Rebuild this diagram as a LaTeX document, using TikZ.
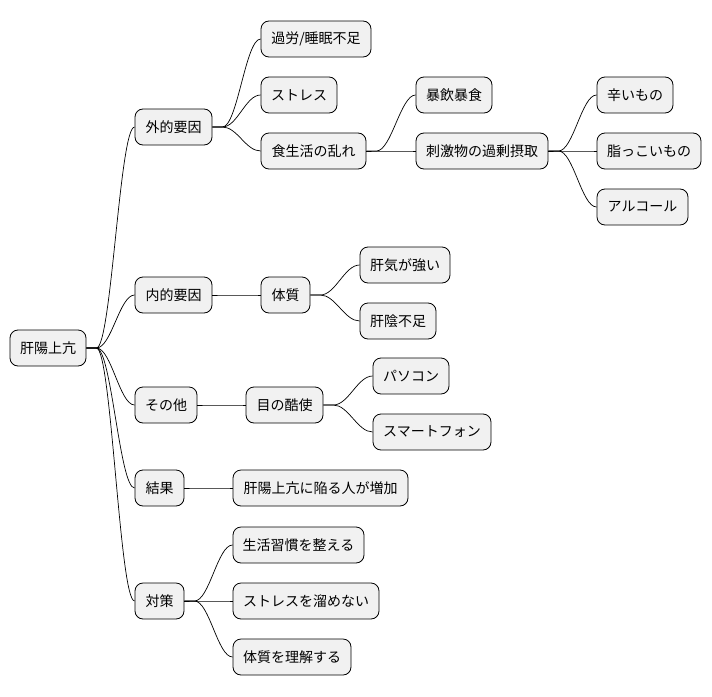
\documentclass[tikz,border=0pt]{standalone}
\usepackage{fontspec}
\newfontfamily\cjk{Noto Sans CJK JP}
\begin{document}
\begin{tikzpicture}[x=1pt,y=-1pt,
  box/.style={draw=black,fill=black!5.5,rounded corners=8pt,minimum height=36pt,inner sep=0pt,font=\cjk\fontsize{14pt}{16pt}\selectfont,line width=0.8pt},
  edge/.style={draw=black,line width=0.7pt}]
\useasboundingbox (0,0) rectangle (712,696);
\newcommand\bx[5]{\node[box,minimum width=#4-#3] (#1) at ({(#3+#4)/2},#5) {#2};}
\bx{r}{肝陽上亢}{10}{86}{348}
\bx{a}{外的要因}{135}{212}{127}
\bx{b}{内的要因}{135}{212}{295}
\bx{c}{その他}{135}{197}{405}
\bx{d}{結果}{135}{184}{488}
\bx{e}{対策}{135}{184}{601}
\bx{a1}{過労/睡眠不足}{261}{371}{39}
\bx{a2}{ストレス}{261}{337}{95}
\bx{a3}{食生活の乱れ}{261}{366}{151}
\bx{a31}{暴飲暴食}{416}{492}{95}
\bx{a32}{刺激物の過剰摂取}{416}{548}{151}
\bx{x1}{辛いもの}{597}{673}{95}
\bx{x2}{脂っこいもの}{597}{701}{151}
\bx{x3}{アルコール}{597}{688}{207}
\bx{b1}{体質}{261}{310}{295}
\bx{b11}{肝気が強い}{360}{450}{265}
\bx{b12}{肝陰不足}{360}{436}{321}
\bx{c1}{目の酷使}{246}{323}{405}
\bx{c11}{パソコン}{373}{449}{376}
\bx{c12}{スマートフォン}{373}{491}{432}
\bx{d1}{肝陽上亢に陥る人が増加}{233}{408}{488}
\bx{e1}{生活習慣を整える}{233}{364}{545}
\bx{e2}{ストレスを溜めない}{233}{379}{601}
\bx{e3}{体質を理解する}{233}{351}{657}
\foreach \p/\c in {r/a,r/b,r/c,r/d,r/e,a/a1,a/a2,a/a3,a3/a31,a3/a32,a32/x1,a32/x2,a32/x3,b/b1,b1/b11,b1/b12,c/c1,c1/c11,c1/c12,d/d1,e/e1,e/e2,e/e3}
  \draw[edge] (\p.east) -- ++(10,0) .. controls +(15,0) and +(-15,0) .. (\c.west);
\end{tikzpicture}
\end{document}
